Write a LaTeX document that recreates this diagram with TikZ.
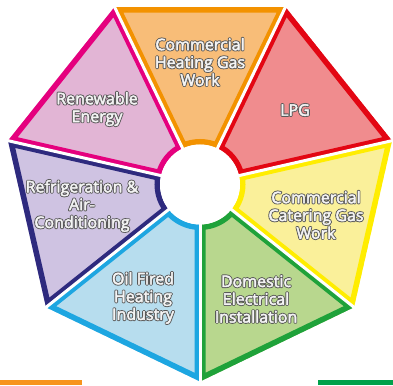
\documentclass[tikz,border=0pt]{standalone}
\usepackage{fontspec}
\setmainfont{Open Sans}
\definecolor{orB}{HTML}{F39200}\definecolor{orF}{HTML}{F8BD78}
\definecolor{rdB}{HTML}{E30613}\definecolor{rdF}{HTML}{F08C8E}
\definecolor{yeB}{HTML}{FFED00}\definecolor{yeF}{HTML}{FAF09A}
\definecolor{grB}{HTML}{1FA23A}\definecolor{grF}{HTML}{B8D78E}
\definecolor{blB}{HTML}{1DA6E1}\definecolor{blF}{HTML}{B7DDEE}
\definecolor{puB}{HTML}{2E2A7E}\definecolor{puF}{HTML}{CFC3E2}
\definecolor{pkB}{HTML}{E5007E}\definecolor{pkF}{HTML}{E2B5D5}
\definecolor{txtC}{HTML}{F4F4F4}
\definecolor{barO}{HTML}{F7941D}\definecolor{barG}{HTML}{00A14B}
\newcommand{\seg}[4]{%
  \begin{scope}
    \clip (#1:40) -- (#1:197) -- (#2:197) -- (#2:40) arc[start angle=#2, end angle=#1, radius=40] -- cycle;
    \fill[#4] (#1:40) -- (#1:197) -- (#2:197) -- (#2:40) arc[start angle=#2, end angle=#1, radius=40] -- cycle;
    \draw[#3, line width=11pt, line join=miter] (#1:40) -- (#1:197) -- (#2:197) -- (#2:40) arc[start angle=#2, end angle=#1, radius=40] -- cycle;
  \end{scope}}
\newcommand{\ol}[1]{\rlap{\special{pdf:literal direct 1 Tr 2.3 w 1 J 1 j 0.35 0.35 0.35 RG}#1}\special{pdf:literal direct 2 Tr 0.45 w 0.96 0.96 0.96 RG}#1\special{pdf:literal direct 0 Tr}}
\tikzset{lbl/.style={align=center, text=txtC, font=\fontsize{16}{17.8}\selectfont, inner sep=0pt}}
\begin{document}
\begin{tikzpicture}[x=1pt,y=1pt]
\useasboundingbox (0,0) rectangle (393,385);
\begin{scope}[shift={(200,200.5)}]
  \seg{-90}{-38.5714}{grB}{grF}
  \seg{-38.5714}{12.8571}{yeB}{yeF}
  \seg{12.8571}{64.2857}{rdB}{rdF}
  \seg{64.2857}{115.7143}{orB}{orF}
  \seg{115.7143}{167.1429}{pkB}{pkF}
  \seg{167.1429}{218.5714}{puB}{puF}
  \seg{218.5714}{270}{blB}{blF}
  \foreach \a in {-90,-38.5714,12.8571,64.2857,115.7143,167.1429,218.5714}
    \draw[white, line width=3pt] (0,0) -- (\a:205);
  \fill[white] (0,0) circle (40);
  \coordinate (ctr) at (0,0);
\end{scope}
\node[lbl] (heat) at (200,323) {\ol{Commercial}\\\ol{Heating Gas}\\\ol{Work}};
\node[lbl] (lpg) at (295,275) {\ol{LPG}};
\node[lbl] (ren) at (97,276) {\ol{Renewable}\\\ol{Energy}};
\node[lbl] (ref) at (82,179) {\ol{Refrigeration \&}\\\ol{Air-}\\\ol{Conditioning}};
\node[lbl] (cat) at (316,170) {\ol{Commercial}\\\ol{Catering Gas}\\\ol{Work}};
\node[lbl] (oil) at (143,87) {\ol{Oil Fired}\\\ol{Heating}\\\ol{Industry}};
\node[lbl] (dom) at (256,86) {\ol{Domestic}\\\ol{Electrical}\\\ol{Installation}};
\fill[barO] (0,0) rectangle (82,5);
\fill[barG] (318,0) rectangle (393,5);
\end{tikzpicture}
\end{document}
